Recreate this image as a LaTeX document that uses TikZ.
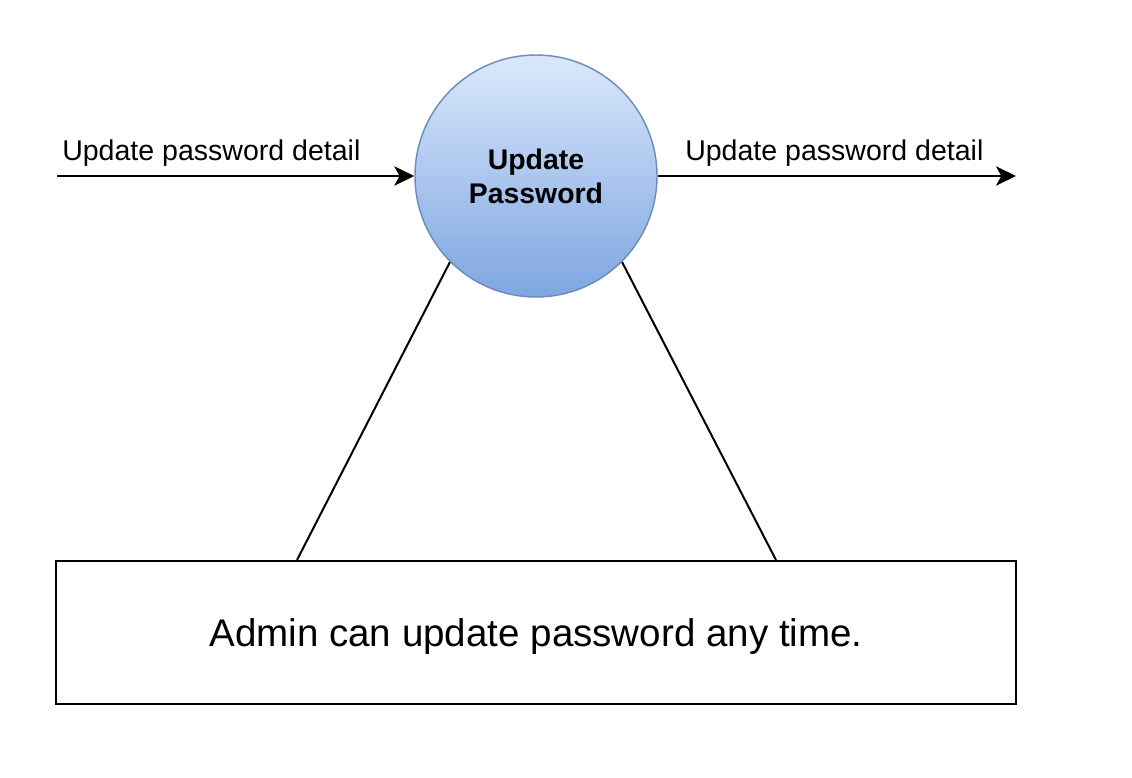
\documentclass[tikz,border=0pt]{standalone}
\usepackage{fontspec}
\setmainfont{Liberation Sans}
\usetikzlibrary{arrows.meta}
\definecolor{fillTop}{RGB}{218,232,252}
\definecolor{fillBot}{RGB}{126,166,224}
\definecolor{strokeBlue}{RGB}{108,142,191}
\tikzset{
  process/.style={circle, draw=strokeBlue, line width=1.1pt, top color=fillTop, bottom color=fillBot,
    minimum size=181.5pt, inner sep=0pt, align=center,
    font=\fontsize{21.3pt}{25.5pt}\selectfont\bfseries},
  flowlabel/.style={inner sep=0pt, font=\fontsize{21.4pt}{25pt}\selectfont},
  flow/.style={line width=1.5pt, -{Stealth[length=15pt, width=14.5pt, inset=4pt]}},
  link/.style={line width=1.5pt},
  notebox/.style={draw, line width=1.5pt, minimum width=720pt, minimum height=107.25pt, inner sep=0pt,
    text depth=0pt, font=\fontsize{28.9pt}{34pt}\selectfont}
}
\begin{document}
\begin{tikzpicture}[x=0.75pt,y=-0.75pt]
\useasboundingbox (0,0) rectangle (1132,778);
\node[process] (p) at (536,176) {Update\\Password};
\coordinate (inStart) at (57,176);
\coordinate (outEnd) at (1016,176);
\draw[flow] (inStart) -- (p.west);
\draw[flow] (p.east) -- (outEnd);
\node[flowlabel, anchor=base west] (lin) at (62,160) {Update password detail};
\node[flowlabel, anchor=base west] (lout) at (685,160) {Update password detail};
\node[notebox] (note) at (536,632.5) {Admin can update password any time.};
\draw[link] (p.225) -- (note.north west -| 297,0);
\draw[link] (p.-45) -- (note.north west -| 776,0);
\end{tikzpicture}
\end{document}
